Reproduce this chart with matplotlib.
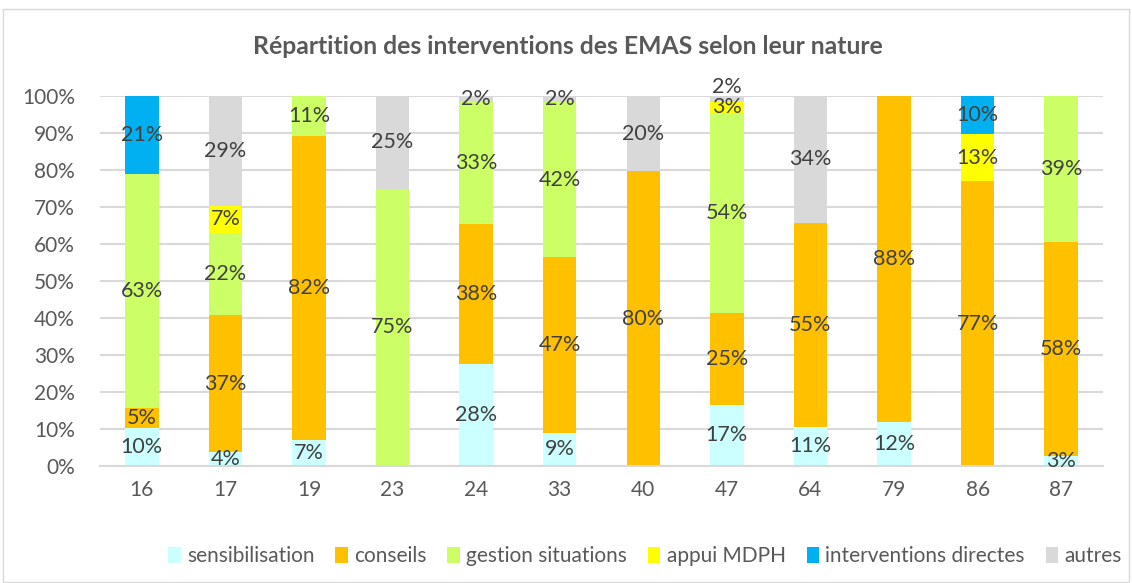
import matplotlib
matplotlib.use("Agg")
import matplotlib.pyplot as plt
from matplotlib.patches import Rectangle, Patch
import numpy as np

plt.rcParams['font.family'] = ['Lato', 'DejaVu Sans']

categories = ["16", "17", "19", "23", "24", "33", "40", "47", "64", "79", "86", "87"]
sensibilisation = [10.4, 3.7, 7.1, 0, 27.6, 9.0, 0, 16.6, 10.6, 11.8, 0, 2.8]
conseils = [5.3, 37.0, 82.1, 0, 37.9, 47.4, 79.6, 24.7, 55.2, 88.2, 76.9, 57.8]
gestion_situations = [63.2, 22.3, 10.8, 75.0, 32.8, 41.9, 0, 54.2, 0, 0, 0, 39.4]
appui_mdph = [0, 7.4, 0, 0, 0, 0, 0, 2.9, 0, 0, 12.8, 0]
interventions_directes = [21.1, 0, 0, 0, 0, 0, 0, 0, 0, 0, 10.3, 0]
autres = [0, 29.4, 0, 25.0, 1.7, 1.7, 20.4, 1.6, 34.2, 0, 0, 0]

series_names = ["sensibilisation", "conseils", "gestion situations", "appui MDPH",
                "interventions directes", "autres"]
series = [sensibilisation, conseils, gestion_situations, appui_mdph,
          interventions_directes, autres]
colors = ["#CCFFFF", "#FFC000", "#CCFF66", "#FFFF00", "#00B0F0", "#D9D9D9"]

W, H = 1132, 583
fig = plt.figure(figsize=(W / 100, H / 100), dpi=100)
fig.patches.append(Rectangle((3 / W, 1 / H), 1126 / W, 573 / H, transform=fig.transFigure,
                             fill=False, edgecolor="#D9D9D9", linewidth=1.0))

ax = fig.add_axes([100 / W, 1 - 466 / H, 1003 / W, 370 / H])
x = np.arange(len(categories))
bottom = np.zeros(len(categories))
label_color = "#404040"
FS = 15.5
for k, (name, vals, col) in enumerate(zip(series_names, series, colors)):
    vals = np.array(vals, dtype=float)
    ax.bar(x, vals, 0.4, bottom=bottom, color=col, label=name, zorder=2)
    bottom_prev = bottom.copy()
    bottom = bottom + vals
    for i, v in enumerate(vals):
        if v <= 0:
            continue
        yc = bottom_prev[i] + v / 2
        # small top segment right above another small labelled segment: lift it
        if k == 5 and v < 2 and appui_mdph[i] > 0:
            yc = 102.5
        ax.text(x[i], yc, f"{v:.0f}%", ha="center", va="center", fontsize=FS,
                color=label_color, zorder=3)

ax.set_xlim(-0.5, len(categories) - 0.5)
ax.set_ylim(0, 100)
ax.set_yticks(np.arange(0, 101, 10))
ax.set_yticklabels([f"{t}%" for t in range(0, 101, 10)])
ax.set_xticks(x)
ax.set_xticklabels(categories)
ax.tick_params(axis="both", length=0, labelsize=15, labelcolor="#595959")
ax.tick_params(axis="x", pad=10)
ax.tick_params(axis="y", pad=18)
ax.grid(axis="y", color="#D9D9D9", linewidth=1.5, zorder=0)
ax.set_axisbelow(True)
for s in ["top", "right", "left"]:
    ax.spines[s].set_visible(False)
ax.spines["bottom"].set_color("#D9D9D9")
ax.spines["bottom"].set_linewidth(1.5)
ax.set_facecolor("none")

fig.text(568 / W, 1 - 46 / H, "Répartition des interventions des EMAS selon leur nature",
         ha="center", va="center", fontsize=17.8, fontweight="bold", color="#595959")

handles = [Patch(facecolor=c, edgecolor="none") for c in colors]
fig.legend(handles, series_names, loc="center", bbox_to_anchor=(645 / W, 1 - 556 / H),
           ncol=6, frameon=False, fontsize=15, handlelength=0.6, handleheight=0.8,
           handletextpad=0.3, columnspacing=1.0, labelcolor="#595959")

fig.savefig("out.png", dpi=100)
